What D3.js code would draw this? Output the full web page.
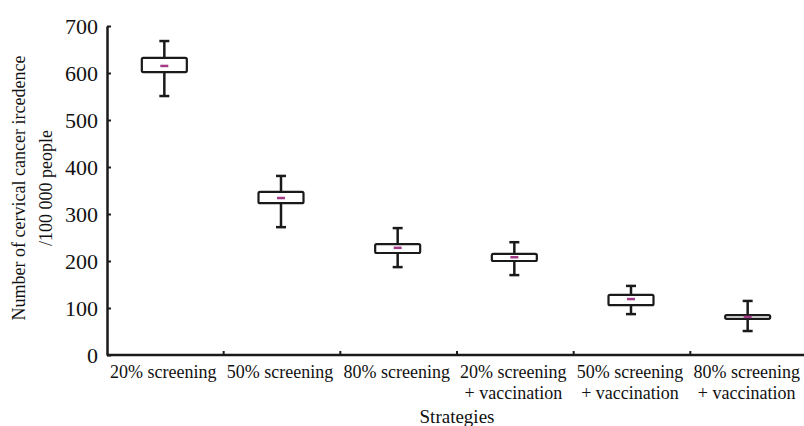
<!DOCTYPE html>
<html lang="en">
<head>
<meta charset="UTF-8">
<title>Cervical cancer incidence by strategy</title>
<script src="https://d3js.org/d3.v7.min.js"></script>
<style>
  body { margin: 0; background: #fff; }
  svg text { fill: #111; }
  .axis path, .axis line { stroke: #1a1a1a; }
</style>
</head>
<body>
<div id="chart"></div>
<script>
  // categories, split into two lines
  const strategies = [
    ["20% screening"],
    ["50% screening"],
    ["80% screening"],
    ["20% screening", "+ vaccination"],
    ["50% screening", "+ vaccination"],
    ["80% screening", "+ vaccination"]
  ];
  const whiskerLow  = [551, 272, 187, 170, 87, 51];
  const q1          = [602, 323, 217, 200, 106, 77];
  const median      = [615, 334, 228, 208, 119, 81];
  const q3          = [632, 347, 236, 215, 128, 85];
  const whiskerHigh = [668, 381, 270, 240, 147, 115];
  const yTicks = [0, 100, 200, 300, 400, 500, 600, 700];

  const serif = "'Times New Roman', 'Liberation Serif', 'DejaVu Serif', serif";
  const width = 804, height = 426;
  const x0 = 107, x1 = 807, yTop = 26, yBottom = 355;

  const data = strategies.map((s, i) => ({
    key: i, label: s,
    lo: whiskerLow[i], q1: q1[i], med: median[i], q3: q3[i], hi: whiskerHigh[i]
  }));

  const svg = d3.select("#chart").append("svg")
    .attr("width", width).attr("height", height)
    .style("font-family", serif);

  const x = d3.scaleBand().domain(data.map(d => d.key)).range([x0, x1]);
  const y = d3.scaleLinear().domain([0, 700]).range([yBottom, yTop]);

  // y axis
  const yAxis = svg.append("g").attr("class", "axis")
    .attr("transform", `translate(${x0},0)`)
    .call(d3.axisLeft(y).tickValues(yTicks).tickSizeInner(-4).tickSizeOuter(0).tickPadding(9));
  yAxis.attr("font-family", null);
  yAxis.select(".domain").attr("stroke-width", 2.5);
  yAxis.selectAll(".tick line").attr("stroke-width", 2);
  yAxis.selectAll("text")
    .style("font-family", serif)
    .attr("font-size", 22).attr("fill", "#111");

  // x axis, ticks on band boundaries
  const xAxis = svg.append("g").attr("class", "axis")
    .attr("transform", `translate(0,${yBottom})`);
  xAxis.append("line")
    .attr("x1", x0).attr("x2", x1)
    .attr("stroke", "#1a1a1a").attr("stroke-width", 2.5);
  xAxis.selectAll(".sep")
    .data(data.slice(1))
    .join("line")
    .attr("class", "sep")
    .attr("x1", d => x(d.key)).attr("x2", d => x(d.key))
    .attr("y1", 0).attr("y2", -4)
    .attr("stroke", "#1a1a1a").attr("stroke-width", 2);

  const labels = xAxis.selectAll(".lab")
    .data(data)
    .join("text")
    .attr("class", "lab")
    .attr("text-anchor", "middle")
    .style("font-family", serif)
    .attr("font-size", 18)
    .attr("x", d => x(d.key) + x.bandwidth() / 2 - 2);
  labels.selectAll("tspan")
    .data(d => d.label.map((t, j) => ({ t, j, cx: x(d.key) + x.bandwidth() / 2 - 2 })))
    .join("tspan")
    .attr("x", t => t.cx)
    .attr("y", t => 23 + t.j * 21)
    .text(t => t.t);

  // boxes
  const boxW = 45;
  const g = svg.append("g").selectAll("g")
    .data(data)
    .join("g")
    .attr("transform", d => `translate(${x(d.key) + x.bandwidth() / 2 - 1},0)`);

  g.append("line")
    .attr("x1", 0).attr("x2", 0)
    .attr("y1", d => y(d.hi)).attr("y2", d => y(d.lo))
    .attr("stroke", "#1a1a1a").attr("stroke-width", 2.5);
  g.append("line")
    .attr("x1", -5).attr("x2", 5)
    .attr("y1", d => y(d.hi)).attr("y2", d => y(d.hi))
    .attr("stroke", "#1a1a1a").attr("stroke-width", 2.5);
  g.append("line")
    .attr("x1", -5).attr("x2", 5)
    .attr("y1", d => y(d.lo)).attr("y2", d => y(d.lo))
    .attr("stroke", "#1a1a1a").attr("stroke-width", 2.5);
  g.append("rect")
    .attr("x", -boxW / 2).attr("width", boxW)
    .attr("y", d => y(d.q3))
    .attr("height", d => y(d.q1) - y(d.q3))
    .attr("rx", 1.5)
    .attr("fill", "#fff")
    .attr("stroke", "#1a1a1a").attr("stroke-width", 2.2);
  g.append("line")
    .attr("x1", -4).attr("x2", 4)
    .attr("y1", d => y(d.med)).attr("y2", d => y(d.med))
    .attr("stroke", "#a23a86").attr("stroke-width", 2.5);

  // axis titles
  const yt = svg.append("text")
    .attr("transform", "translate(25,188) rotate(-90)")
    .attr("text-anchor", "middle")
    .style("font-family", serif)
    .attr("font-size", 18);
  yt.append("tspan").attr("x", 0).attr("y", 0).text("Number of cervical cancer ircedence");
  yt.append("tspan").attr("x", 0).attr("y", 27).text("/100 000 people");

  svg.append("text")
    .attr("x", 457).attr("y", 423)
    .attr("text-anchor", "middle")
    .style("font-family", serif)
    .attr("font-size", 19)
    .text("Strategies");
</script>
</body>
</html>
